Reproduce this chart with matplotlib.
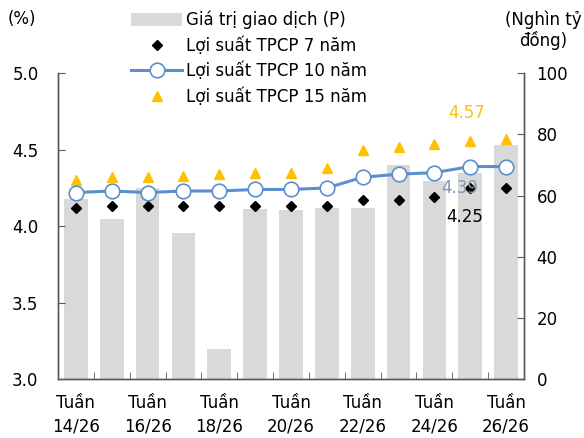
import matplotlib
matplotlib.use("Agg")
import matplotlib.pyplot as plt
import numpy as np
from matplotlib.patches import Patch
from matplotlib.lines import Line2D

# du lieu doc tu bieu do
tuan = ["14/26", "15/26", "16/26", "17/26", "18/26", "19/26", "20/26",
        "21/26", "22/26", "23/26", "24/26", "25/26", "26/26"]
gia_tri = [58.9, 52.2, 62.6, 47.7, 9.8, 55.6, 55.3, 56.0, 56.0, 69.9, 64.9, 67.3, 76.5]
ls_7nam = [4.12, 4.13, 4.13, 4.13, 4.13, 4.13, 4.13, 4.13, 4.17, 4.17, 4.19, 4.25, 4.25]
ls_10nam = [4.22, 4.23, 4.22, 4.23, 4.23, 4.24, 4.24, 4.25, 4.32, 4.34, 4.35, 4.39, 4.39]
ls_15nam = [4.30, 4.32, 4.32, 4.33, 4.34, 4.35, 4.35, 4.38, 4.50, 4.52, 4.54, 4.56, 4.57]

mau_cot = "#D9D9D9"
mau_10 = "#5B8FD0"
mau_15 = "#FFC000"
mau_truc = "#595959"
co_chu = 12

plt.rcParams["font.family"] = ["DejaVu Sans"]
plt.rcParams["font.size"] = co_chu

fig = plt.figure(figsize=(5.84, 4.38), dpi=100)
ax = fig.add_axes([58 / 584, 1 - 379 / 438, 466 / 584, 305.7 / 438])
ax2 = ax.twinx()

x = np.arange(len(tuan))

# cot gia tri giao dich (truc phai)
ax2.bar(x, gia_tri, width=0.66, color=mau_cot, zorder=1)
ax2.set_ylim(0, 100)
ax2.set_yticks([0, 20, 40, 60, 80, 100])

# cac duong loi suat (truc trai)
ax.set_zorder(ax2.get_zorder() + 1)
ax.patch.set_visible(False)
ax.plot(x, ls_7nam, linestyle="none", marker="D", markersize=5.5, color="black", zorder=3)
ax.plot(x, ls_10nam, color=mau_10, linewidth=2.2, marker="o", markersize=10.5,
        markerfacecolor="white", markeredgecolor=mau_10, markeredgewidth=1.2, zorder=4)
ax.plot(x, ls_15nam, linestyle="none", marker="^", markersize=7, color=mau_15, zorder=3)

ax.set_ylim(3.0, 5.0)
ax.set_yticks([3.0, 3.5, 4.0, 4.5, 5.0])
ax.set_yticklabels(["3.0", "3.5", "4.0", "4.5", "5.0"])
ax.set_xlim(-0.5, len(tuan) - 0.5)
ax.set_xticks(x[::2])
ax.set_xticklabels(["Tuần\n" + t for t in tuan[::2]], linespacing=1.4)
ax.set_xticks(np.arange(-0.5, len(tuan), 1.0), minor=True)

for a in (ax, ax2):
    a.spines["top"].set_visible(False)
    for s in ("left", "right", "bottom"):
        a.spines[s].set_color(mau_truc)
        a.spines[s].set_linewidth(1.0)
    a.tick_params(direction="in", length=5, color=mau_truc, labelsize=co_chu, labelcolor="black")
ax.tick_params(axis="x", which="major", length=0, pad=11)
ax.tick_params(axis="x", which="minor", direction="in", length=5, color=mau_truc)
ax.tick_params(axis="y", pad=14)
ax2.tick_params(axis="y", pad=9)

# nhan gia tri cuoi
n = len(tuan) - 1
ax.text(n - 1.1, ls_15nam[n] + 0.17, "%.2f" % ls_15nam[n], color=mau_15, ha="center", va="center", fontsize=co_chu)
ax.text(n - 1.3, ls_10nam[n] - 0.14, "%.2f" % ls_10nam[n], color="#8497B0", ha="center", va="center", fontsize=co_chu)
ax.text(n - 1.15, ls_7nam[n] - 0.19, "%.2f" % ls_7nam[n], color="black", ha="center", va="center", fontsize=co_chu)

# tieu de truc
fig.text(22 / 584, 1 - 19 / 438, "(%)", ha="center", va="center", fontsize=co_chu)
fig.text(543 / 584, 1 - 30 / 438, "(Nghìn tỷ\nđồng)", ha="center", va="center", fontsize=co_chu, linespacing=1.15)

# chu giai
handles = [
    Patch(facecolor=mau_cot, edgecolor="none"),
    Line2D([], [], linestyle="none", marker="D", markersize=5.5, color="black"),
    Line2D([], [], color=mau_10, linewidth=2.2, marker="o", markersize=10.5,
           markerfacecolor="white", markeredgecolor=mau_10, markeredgewidth=1.2),
    Line2D([], [], linestyle="none", marker="^", markersize=7, color=mau_15),
]
labels = ["Giá trị giao dịch (P)", "Lợi suất TPCP 7 năm", "Lợi suất TPCP 10 năm", "Lợi suất TPCP 15 năm"]
fig.legend(handles, labels, loc="upper left", bbox_to_anchor=(119 / 584, 1 + 1 / 438),
           frameon=False, fontsize=co_chu, handlelength=3.1, handleheight=0.8,
           handletextpad=0.25, labelspacing=0.42, borderpad=0.2)

fig.savefig("out.png", dpi=100)
